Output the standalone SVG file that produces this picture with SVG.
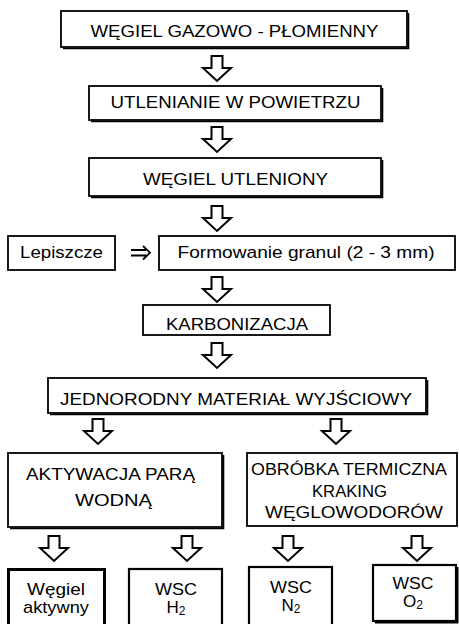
<svg xmlns="http://www.w3.org/2000/svg" xmlns:xlink="http://www.w3.org/1999/xlink" width="459" height="624" viewBox="0 0 459 624">
<defs>
<style>
.box{fill:#fff;stroke:#000;stroke-width:1.8}
.sh{fill:none;stroke:#000;stroke-width:1.6}
.t{font-family:"Liberation Sans",Arial,sans-serif;font-size:17px;fill:#000;text-anchor:middle}
.arr{fill:#fff;stroke:#000;stroke-width:2;stroke-linejoin:miter}
.ln{fill:none;stroke:#000;stroke-width:1.8}
</style>
<path id="ar" class="arr" d="M-5.5,0 H5.5 V12 H14 L0,25 L-14,12 H-5.5 Z"/>
</defs>
<rect width="459" height="624" fill="#fff"/>
<g id="connectors">
<use xlink:href="#ar" x="217" y="56"/>
<use xlink:href="#ar" x="217" y="127"/>
<use xlink:href="#ar" x="217" y="206"/>
<use xlink:href="#ar" x="217" y="277"/>
<use xlink:href="#ar" x="217" y="343"/>
<use xlink:href="#ar" x="98" y="419"/>
<use xlink:href="#ar" x="336" y="419"/>
<use xlink:href="#ar" x="54" y="536"/>
<use xlink:href="#ar" x="187" y="536"/>
<use xlink:href="#ar" x="288" y="536"/>
<use xlink:href="#ar" x="417" y="536"/>
<path class="ln" d="M131,250 H146 M131,255.5 H146 M143,246 L150,252.7 L143,259.5"/>
</g>
<g id="n1">
<rect class="box" x="61" y="11" width="346" height="36"/>
<path class="sh" d="M408.5,13 V48.5 H63"/>
<text class="t" x="234.5" y="37" textLength="288" lengthAdjust="spacingAndGlyphs">WĘGIEL GAZOWO - PŁOMIENNY</text>
</g>
<g id="n2">
<rect class="box" x="89" y="86" width="292" height="34"/>
<path class="sh" d="M382.5,88 V121.5 H91"/>
<text class="t" x="235.5" y="108" textLength="250" lengthAdjust="spacingAndGlyphs">UTLENIANIE W POWIETRZU</text>
</g>
<g id="n3">
<rect class="box" x="89" y="158" width="292" height="38"/>
<path class="sh" d="M382.5,160 V197.5 H91"/>
<text class="t" x="235.5" y="185" textLength="185" lengthAdjust="spacingAndGlyphs">WĘGIEL UTLENIONY</text>
</g>
<g id="n4">
<rect class="box" x="8" y="236" width="107" height="34"/>
<text class="t" x="61.5" y="258" textLength="83" lengthAdjust="spacingAndGlyphs">Lepiszcze</text>
</g>
<g id="n5">
<rect class="box" x="159" y="236" width="296" height="34"/>
<text class="t" x="306" y="258" textLength="257" lengthAdjust="spacingAndGlyphs">Formowanie granul (2 - 3 mm)</text>
</g>
<g id="n6">
<rect class="box" x="143" y="305" width="187" height="30"/>
<text class="t" x="237" y="330" textLength="142" lengthAdjust="spacingAndGlyphs">KARBONIZACJA</text>
</g>
<g id="n7">
<rect class="box" x="48" y="378" width="378" height="35"/>
<path class="sh" d="M427.5,380 V414.5 H50"/>
<text class="t" x="236" y="405" textLength="352" lengthAdjust="spacingAndGlyphs">JEDNORODNY MATERIAŁ WYJŚCIOWY</text>
</g>
<g id="n8">
<rect class="box" x="8" y="453" width="214" height="74"/>
<path class="sh" d="M223.5,455 V528.5 H10"/>
<text class="t" x="110.5" y="480" textLength="169" lengthAdjust="spacingAndGlyphs">AKTYWACJA PARĄ</text>
<text class="t" x="113.5" y="506" textLength="77" lengthAdjust="spacingAndGlyphs">WODNĄ</text>
</g>
<g id="n9">
<rect class="box" x="247" y="453" width="210" height="73"/>
<text class="t" x="349" y="475" textLength="196" lengthAdjust="spacingAndGlyphs">OBRÓBKA TERMICZNA</text>
<text class="t" x="349.5" y="497" textLength="75" lengthAdjust="spacingAndGlyphs">KRAKING</text>
<text class="t" x="354" y="518" textLength="178" lengthAdjust="spacingAndGlyphs">WĘGLOWODORÓW</text>
</g>
<g id="n10">
<rect class="box" x="8.5" y="569.5" width="96" height="60" style="stroke-width:3"/>
<text class="t" x="56" y="595" textLength="58" lengthAdjust="spacingAndGlyphs">Węgiel</text>
<text class="t" x="56" y="613" textLength="66" lengthAdjust="spacingAndGlyphs">aktywny</text>
</g>
<g id="n11">
<rect class="box" x="129" y="569" width="93" height="60" style="stroke-width:2.2"/>
<text class="t" x="176" y="595" textLength="42" lengthAdjust="spacingAndGlyphs">WSC</text>
<text class="t" x="176" y="613">H<tspan font-size="12" dy="2">2</tspan></text>
</g>
<g id="n12">
<rect class="box" x="249" y="567" width="83" height="62" style="stroke-width:2.2"/>
<text class="t" x="291" y="593" textLength="42" lengthAdjust="spacingAndGlyphs">WSC</text>
<text class="t" x="291" y="611">N<tspan font-size="12" dy="2">2</tspan></text>
</g>
<g id="n13">
<rect class="box" x="373" y="565" width="83" height="56" style="stroke-width:2.2"/>
<path class="sh" d="M457.5,567 V622.5 H375" style="stroke-width:2"/>
<text class="t" x="413" y="589" textLength="41" lengthAdjust="spacingAndGlyphs">WSC</text>
<text class="t" x="413" y="607">O<tspan font-size="12" dy="2">2</tspan></text>
</g>
</svg>
